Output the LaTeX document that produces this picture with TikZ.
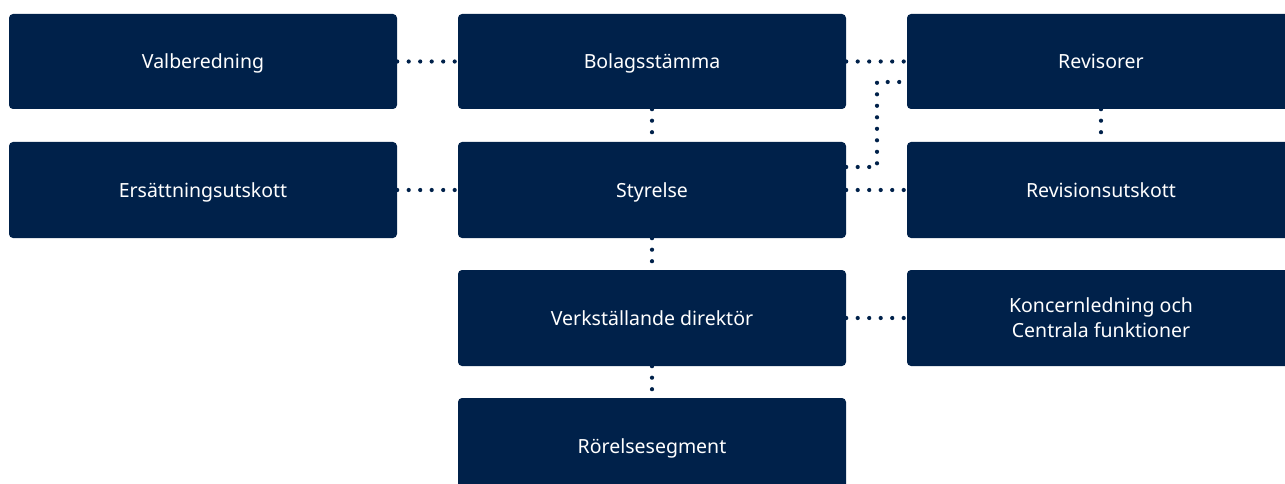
\documentclass[tikz,border=0pt]{standalone}
\usepackage{fontspec}
\setmainfont{Noto Sans}
\definecolor{navy}{HTML}{00214A}
\begin{document}
\begin{tikzpicture}[x=1pt,y=-1pt,
  box/.style={fill=navy,draw=none,rounded corners=4pt,minimum width=388pt,minimum height=96pt,
    text=white,font=\fontsize{19.5}{25}\selectfont,align=center,inner sep=0pt,text height=15pt,text depth=0pt},
  box2/.style={box,text height=,text depth=0pt},
  link/.style={navy,line width=4.2pt,line cap=round,dash pattern=on 0pt off 11.5pt}]
\useasboundingbox (0,0) rectangle (1285,484);
\clip (0,0) rectangle (1285,484);
\coordinate (e1) at (877,167);
\coordinate (e2) at (877,82);
\node[box,minimum height=95pt] (val) at (203,61.5) {Valberedning};
\node[box,minimum height=95pt] (bol) at (652,61.5) {Bolagsstämma};
\node[box,minimum height=95pt] (rev) at (1101,61.5) {Revisorer};
\node[box] (ers) at (203,190) {Ersättningsutskott};
\node[box] (sty) at (652,190) {Styrelse};
\node[box] (rvu) at (1101,190) {Revisionsutskott};
\node[box] (vd) at (652,318) {Verkställande direktör};
\node[box2] (kon) at (1101,318) {Koncernledning och\\Centrala funktioner};
\node[box] (ror) at (652,446) {Rörelsesegment};
\draw[link] (val.east) -- (bol.west);
\draw[link] (bol.east) -- (rev.west);
\draw[link] (ers.east) -- (sty.west);
\draw[link] (sty.east) -- (rvu.west);
\draw[link] (vd.east) -- (kon.west);
\draw[link] (bol.south) -- (sty.north);
\draw[link] (sty.south) -- (vd.north);
\draw[link] (vd.south) -- (ror.north);
\draw[link] (rev.south) -- (rvu.north);
\draw[link] (sty.east |- e1) -- (e1) -- (e2) -- (rev.west |- e2);
\end{tikzpicture}
\end{document}
